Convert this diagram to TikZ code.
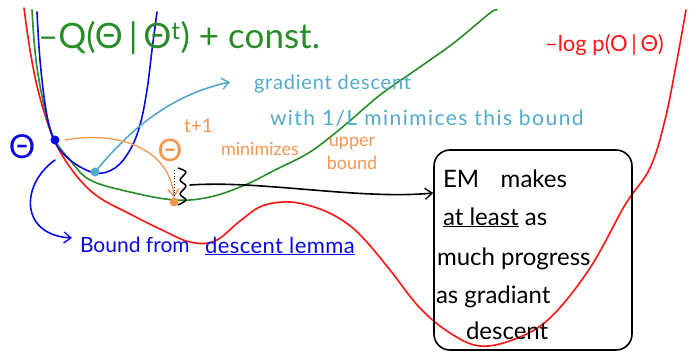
\documentclass[tikz,border=0pt]{standalone}
\usepackage{fontspec}
\setmainfont{Lato}
\usetikzlibrary{arrows.meta}
\definecolor{cgreen}{RGB}{40,140,40}
\definecolor{cred}{RGB}{250,20,20}
\definecolor{cblue}{RGB}{10,10,230}
\definecolor{ccyan}{RGB}{80,170,200}
\definecolor{corange}{RGB}{245,150,80}
\tikzset{
  curve/.style={line width=1.6pt, line cap=round, line join=round},
  hand/.style={inner sep=0pt, outer sep=0pt},
  dotc/.style={circle, fill, inner sep=0pt, minimum size=9pt},
  tip/.style={-{Straight Barb[length=7pt,width=11pt,line width=1.4pt]}},
  boxline/.style={hand, anchor=base west, font=\fontsize{24}{24}\selectfont}
}
\begin{document}
\begin{tikzpicture}[x=1pt,y=-1pt]
\useasboundingbox (0,0) rectangle (691,354);
% red -log p curve
\draw[curve, cred] plot[smooth, tension=0.6] coordinates {(24,8) (30,50) (38,90) (50,130) (62,155) (80,180) (100,198) (130,214) (160,229) (190,242) (215,241) (240,221) (262,206) (290,202) (320,209) (345,222) (365,240) (390,270) (420,308) (450,333) (480,346) (515,339) (550,318) (590,268) (625,205) (650,168) (665,120) (677,60) (686,10)};
% green -Q curve
\draw[curve, cgreen] plot[smooth, tension=0.6] coordinates {(32,10) (36,60) (45,110) (55,140) (70,160) (90,180) (130,192) (175,200) (210,197) (245,185) (275,170) (310,152) (345,125) (380,95) (420,67) (455,42) (490,13) (497,10)};
% blue descent-lemma bound
\draw[curve, cblue] plot[smooth, tension=0.6] coordinates {(37,12) (40,60) (46,110) (54,140) (70,160) (95,173) (115,168) (130,150) (140,125) (147,90) (152,50) (157,12)};
% dots
\node[dotc, cblue] (pt) at (55,140) {};
\node[dotc, ccyan] (gd) at (95,172) {};
\node[dotc, corange] (em) at (174,202) {};
% labels
\node[hand, cblue, font=\fontsize{33}{33}\selectfont] (thb) at (22,147) {Θ};
\node[hand, corange, font=\fontsize{31}{31}\selectfont] (tho) at (170,150) {Θ};
\node[hand, corange, font=\fontsize{19}{19}\selectfont, anchor=west] (tp1) at (184,126) {t+1};
% gradient descent arrow
\coordinate (gdend) at (230,82);
\draw[curve, ccyan, tip] (gd) .. controls (130,130) and (170,95) .. (gdend);
% orange arrow
\draw[curve, corange, line width=1.3pt, tip] (65,140) .. controls (120,130) and (170,150) .. (em.north);
% dotted gap
\coordinate (dtop) at (174,170);
\draw[line width=0.8pt, dotted] (dtop) -- (em.north);
% brace
\draw[line width=1.5pt, line join=round] plot[smooth, tension=0.5] coordinates {(178,168) (186,172) (180,180) (186,186) (180,194) (186,200) (178,205)};
% EM box
\node[draw, line width=1.6pt, rounded corners=16pt, minimum width=198pt, minimum height=200pt, inner sep=0pt] (box) at (533,250) {};
\node[boxline] (l1) at (443,187) {EM\hspace{0.9em}makes};
\node[boxline] (l2) at (443,225) {\underline{at least} as};
\node[boxline] (l3) at (437,265) {much progress};
\node[boxline] (l4) at (436,303) {as gradiant};
\node[boxline] (l5) at (466,339) {descent};
% black arrow
\coordinate (brc) at (190,185);
\draw[curve, tip] (brc) .. controls (260,180) and (360,200) .. (box.west |- 0,193);
% blue arrow
\coordinate (bstart) at (55,160);
\coordinate (bend) at (72,238);
\draw[curve, cblue, tip] (bstart) .. controls (20,185) and (20,235) .. (bend);
% texts
\node[hand, cgreen, anchor=west, font=\fontsize{35}{35}\selectfont] (qtxt) at (38,38) {–Q(Θ\,|\,Θ\textsuperscript{t}) + const.};
\node[hand, cred, anchor=west, font=\fontsize{22}{22}\selectfont] (ltxt) at (545,45) {–log p(O\,|\,Θ)};
\node[hand, ccyan, anchor=west, font=\fontsize{20}{20}\selectfont\addfontfeatures{LetterSpace=4}] (gtxt1) at (254,84) {gradient descent};
\node[hand, ccyan, anchor=west, font=\fontsize{21}{21}\selectfont\addfontfeatures{LetterSpace=7}] (gtxt2) at (270,118) {with 1/L minimices this bound};
\node[hand, corange, anchor=west, font=\fontsize{18}{18}\selectfont] (otxt) at (221,149) {minimizes};
\node[hand, corange, align=center, font=\fontsize{18}{23}\selectfont] (otxt2) at (352,153) {upper\\bound};
\node[hand, cblue, anchor=west, font=\fontsize{21}{21}\selectfont] (btxt) at (80,245) {Bound from};
\node[hand, cblue, anchor=west, font=\fontsize{22}{22}\selectfont\addfontfeatures{LetterSpace=2}] (btxt2) at (205,246) {\underline{descent lemma}};
\end{tikzpicture}
\end{document}
